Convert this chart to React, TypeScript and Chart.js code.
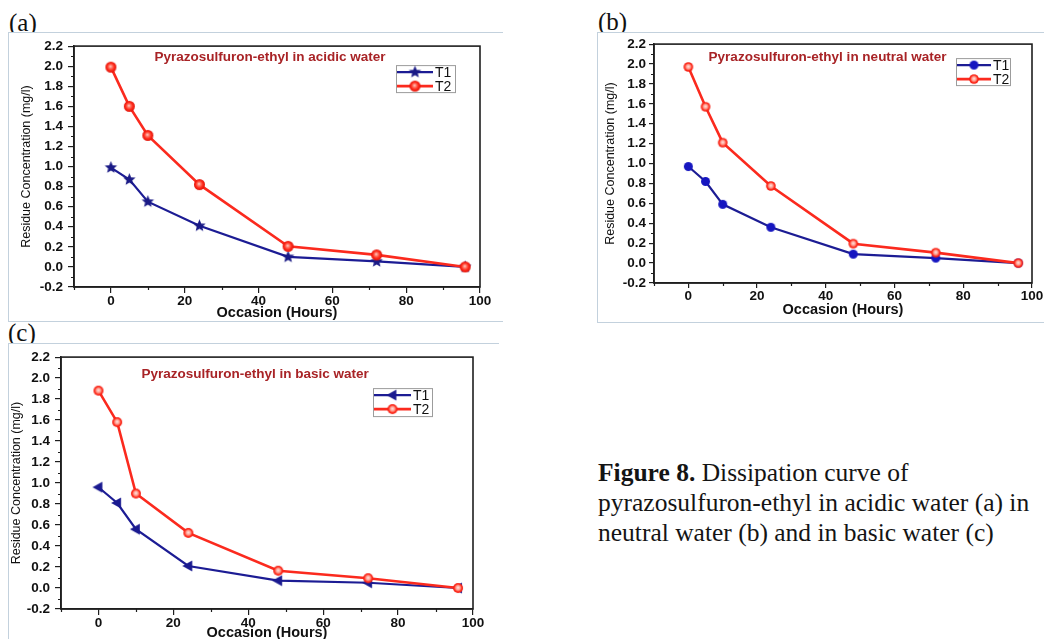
import React, { useEffect, useRef } from 'react';
import { Chart, registerables } from 'chart.js';

Chart.register(...registerables);

// ---------- data ----------
const hours = [0, 5, 10, 24, 48, 72, 96];
const acidicT1 = [0.99, 0.87, 0.65, 0.41, 0.1, 0.055, 0.0];
const acidicT2 = [1.99, 1.6, 1.31, 0.82, 0.205, 0.12, 0.0];
const neutralT1 = [0.97, 0.82, 0.59, 0.36, 0.09, 0.05, 0.0];
const neutralT2 = [1.97, 1.57, 1.21, 0.775, 0.195, 0.105, 0.0];
const basicT1 = [0.96, 0.81, 0.56, 0.21, 0.07, 0.05, 0.0];
const basicT2 = [1.88, 1.58, 0.9, 0.525, 0.165, 0.093, 0.0];

const xTickValues = [0, 20, 40, 60, 80, 100];
const xMinorValues = [-10, 10, 30, 50, 70, 90];
const yTickValues = [-0.2, 0, 0.2, 0.4, 0.6, 0.8, 1.0, 1.2, 1.4, 1.6, 1.8, 2.0, 2.2];
const yMinorValues = [-0.1, 0.1, 0.3, 0.5, 0.7, 0.9, 1.1, 1.3, 1.5, 1.7, 1.9, 2.1];
const seriesLabels = ['T1', 'T2'];
const xAxisTitle = 'Occasion (Hours)';
const yAxisTitle = 'Residue Concentration (mg/l)';
const panelTitles = [
  'Pyrazosulfuron-ethyl in acidic water',
  'Pyrazosulfuron-ethyl in neutral water',
  'Pyrazosulfuron-ethyl in basic water',
];
const panelLetters = ['(a)', '(b)', '(c)'];
const captionBold = 'Figure 8.';
const captionLines = [
  ' Dissipation curve of',
  'pyrazosulfuron-ethyl in acidic water (a) in',
  'neutral water (b) and in basic water (c)',
];

// ---------- styles ----------
const SANS = "'Liberation Sans', Arial, sans-serif";
const SERIF = "'Liberation Serif', 'Times New Roman', serif";
const BLUE = '#1c1c94';
const RED = '#fb2a1e';
const AXIS = '#1e1e1e';
const FRAME = '#c3d1dd';

type MarkerKind = 'star' | 'ball' | 'ring' | 'circle' | 'triLeft';
interface MarkerDef { kind: MarkerKind; r: number; color: string; }

function makeMarker(m: MarkerDef): HTMLCanvasElement {
  const s = Math.ceil(m.r * 2 + 4);
  const c = document.createElement('canvas');
  c.width = s;
  c.height = s;
  const ctx = c.getContext('2d')!;
  const cx = s / 2;
  const cy = s / 2;
  const r = m.r;
  ctx.beginPath();
  if (m.kind === 'star') {
    for (let i = 0; i < 10; i++) {
      const rad = i % 2 === 0 ? r : r * 0.45;
      const a = -Math.PI / 2 + (i * Math.PI) / 5;
      ctx.lineTo(cx + rad * Math.cos(a), cy + rad * Math.sin(a));
    }
    ctx.closePath();
    ctx.fillStyle = m.color;
    ctx.fill();
  } else if (m.kind === 'triLeft') {
    ctx.moveTo(cx - r, cy);
    ctx.lineTo(cx + r * 0.65, cy - r * 0.9);
    ctx.lineTo(cx + r * 0.65, cy + r * 0.9);
    ctx.closePath();
    ctx.fillStyle = m.color;
    ctx.fill();
  } else if (m.kind === 'circle') {
    ctx.arc(cx, cy, r, 0, Math.PI * 2);
    ctx.fillStyle = m.color;
    ctx.fill();
  } else if (m.kind === 'ball') {
    const g = ctx.createRadialGradient(cx - r * 0.1, cy - r * 0.15, 0, cx, cy, r);
    g.addColorStop(0, '#ffd6cf');
    g.addColorStop(0.3, '#ff7a6a');
    g.addColorStop(0.65, '#ff2a1a');
    g.addColorStop(1, '#e0140a');
    ctx.arc(cx, cy, r, 0, Math.PI * 2);
    ctx.fillStyle = g;
    ctx.fill();
  } else {
    const g = ctx.createRadialGradient(cx, cy - r * 0.1, 0, cx, cy, r);
    g.addColorStop(0, '#ffe8e4');
    g.addColorStop(0.45, '#ff9a8c');
    g.addColorStop(0.75, '#ff3020');
    g.addColorStop(1, '#f01a10');
    ctx.arc(cx, cy, r, 0, Math.PI * 2);
    ctx.fillStyle = g;
    ctx.fill();
  }
  return c;
}

interface PanelDef {
  left: number; top: number; w: number; h: number;
  yW: number; xH: number;
  pad: { top: number; right: number; bottom: number; left: number };
  yTitlePad: number; xTitlePad: number; yTickPad: number; tickLen: number;
  t1: number[]; t2: number[];
  m1: MarkerDef; m2: MarkerDef;
  title: string; titleFx: number; titleDy: number;
  legend: { dx: number; dy: number; w: number; h: number; sample: number };
}

const panels: PanelDef[] = [
  {
    left: 9, top: 33, w: 491, h: 288, yW: 65, xH: 34,
    pad: { top: 9, right: 20, bottom: 0, left: 0 },
    yTitlePad: 10, xTitlePad: -1, yTickPad: 5, tickLen: 6,
    t1: acidicT1, t2: acidicT2,
    m1: { kind: 'star', r: 6.5, color: '#1a1a86' },
    m2: { kind: 'ball', r: 5.5, color: RED },
    title: panelTitles[0], titleFx: 0.483, titleDy: 11,
    legend: { dx: 322, dy: 19, w: 59, h: 27, sample: 36 },
  },
  {
    left: 598, top: 33, w: 446, h: 289, yW: 56, xH: 39,
    pad: { top: 7, right: 12, bottom: 0, left: 0 },
    yTitlePad: 5, xTitlePad: 3, yTickPad: 3, tickLen: 5,
    t1: neutralT1, t2: neutralT2,
    m1: { kind: 'circle', r: 4.5, color: '#1616c0' },
    m2: { kind: 'ring', r: 4.8, color: RED },
    title: panelTitles[1], titleFx: 0.459, titleDy: 13,
    legend: { dx: 302, dy: 14, w: 54, h: 27, sample: 34 },
  },
  {
    left: 9, top: 344, w: 489, h: 295, yW: 52, xH: 30,
    pad: { top: 8, right: 25, bottom: 0, left: 0 },
    yTitlePad: 0, xTitlePad: -2.4, yTickPad: 5, tickLen: 6,
    t1: basicT1, t2: basicT2,
    m1: { kind: 'triLeft', r: 6, color: '#1a1a90' },
    m2: { kind: 'ring', r: 5, color: RED },
    title: panelTitles[2], titleFx: 0.471, titleDy: 17,
    legend: { dx: 312, dy: 31, w: 59, h: 28, sample: 37 },
  },
];

function buildChart(canvas: HTMLCanvasElement, p: PanelDef) {
  const img1 = makeMarker(p.m1);
  const img2 = makeMarker(p.m2);

  const decor = {
    id: 'decor',
    afterDraw(chart: any) {
      const { ctx, chartArea: a, scales } = chart;
      ctx.save();
      // minor ticks
      ctx.strokeStyle = AXIS;
      ctx.lineWidth = 1.2;
      ctx.beginPath();
      xMinorValues.forEach((v) => {
        const px = Math.round(scales.x.getPixelForValue(v)) + 0.5;
        ctx.moveTo(px, a.bottom);
        ctx.lineTo(px, a.bottom + 3);
      });
      yMinorValues.forEach((v) => {
        const py = Math.round(scales.y.getPixelForValue(v)) + 0.5;
        ctx.moveTo(a.left - 3, py);
        ctx.lineTo(a.left, py);
      });
      ctx.stroke();
      // frame
      ctx.lineWidth = 1.6;
      ctx.strokeRect(a.left, a.top, a.right - a.left, a.bottom - a.top);
      // title inside plot
      ctx.font = `bold 13.5px ${SANS}`;
      ctx.fillStyle = '#a82326';
      ctx.textAlign = 'center';
      ctx.textBaseline = 'middle';
      ctx.fillText(p.title, a.left + p.titleFx * (a.right - a.left), a.top + p.titleDy);
      // legend
      const L = p.legend;
      const bx = a.left + L.dx;
      const by = a.top + L.dy;
      ctx.fillStyle = '#ffffff';
      ctx.fillRect(bx, by, L.w, L.h);
      ctx.strokeStyle = '#9c9c9c';
      ctx.lineWidth = 1;
      ctx.strokeRect(bx + 0.5, by + 0.5, L.w, L.h);
      const rows = [
        { label: seriesLabels[0], color: BLUE, img: img1, lw: 2.2 },
        { label: seriesLabels[1], color: RED, img: img2, lw: 2.6 },
      ];
      rows.forEach((row, i) => {
        const ry = by + 7 + i * 14;
        ctx.strokeStyle = row.color;
        ctx.lineWidth = row.lw;
        ctx.beginPath();
        ctx.moveTo(bx + 1, ry);
        ctx.lineTo(bx + 1 + L.sample, ry);
        ctx.stroke();
        ctx.drawImage(row.img, bx + 1 + L.sample / 2 - row.img.width / 2, ry - row.img.height / 2);
        ctx.fillStyle = '#111';
        ctx.font = `14px ${SANS}`;
        ctx.textAlign = 'left';
        ctx.textBaseline = 'middle';
        ctx.fillText(row.label, bx + L.sample + 3, ry + 1);
      });
      ctx.restore();
    },
  };

  const tickFont = { family: SANS, size: 13.5, weight: 'bold' as const };

  return new Chart(canvas, {
    type: 'line',
    data: {
      datasets: [
        {
          label: seriesLabels[0],
          data: hours.map((h, i) => ({ x: h, y: p.t1[i] })),
          borderColor: BLUE,
          borderWidth: 2.2,
          pointStyle: img1 as any,
          pointRadius: p.m1.r,
          order: 2,
          tension: 0,
        },
        {
          label: seriesLabels[1],
          data: hours.map((h, i) => ({ x: h, y: p.t2[i] })),
          borderColor: RED,
          borderWidth: 2.6,
          pointStyle: img2 as any,
          pointRadius: p.m2.r,
          order: 1,
          tension: 0,
        },
      ],
    },
    options: {
      animation: false,
      responsive: false,
      maintainAspectRatio: false,
      layout: { padding: p.pad },
      plugins: {
        legend: { display: false },
        tooltip: { enabled: false },
        title: { display: false },
      },
      scales: {
        x: {
          type: 'linear',
          min: -10,
          max: 100,
          afterBuildTicks: (s: any) => {
            s.ticks = xTickValues.map((v) => ({ value: v }));
          },
          afterFit: (s: any) => {
            s.height = p.xH;
          },
          grid: {
            display: true,
            drawOnChartArea: false,
            drawTicks: true,
            tickLength: p.tickLen,
            color: AXIS,
            lineWidth: 1.2,
          },
          border: { display: true, color: AXIS, width: 1.6 },
          ticks: {
            font: tickFont,
            color: '#111',
            padding: 0,
            maxRotation: 0,
            autoSkip: false,
            callback: (v: any) => String(v),
          },
          title: {
            display: true,
            text: xAxisTitle,
            color: '#111',
            font: { family: SANS, size: 14.5, weight: 'bold' },
            padding: { top: 0, bottom: p.xTitlePad },
          },
        },
        y: {
          type: 'linear',
          min: -0.2,
          max: 2.2,
          afterBuildTicks: (s: any) => {
            s.ticks = yTickValues.map((v) => ({ value: v }));
          },
          afterFit: (s: any) => {
            s.width = p.yW;
          },
          grid: {
            display: true,
            drawOnChartArea: false,
            drawTicks: true,
            tickLength: p.tickLen,
            color: AXIS,
            lineWidth: 1.2,
          },
          border: { display: true, color: AXIS, width: 1.6 },
          ticks: {
            font: tickFont,
            color: '#111',
            padding: p.yTickPad,
            autoSkip: false,
            callback: (v: any) => Number(v).toFixed(1),
          },
          title: {
            display: true,
            text: yAxisTitle,
            color: '#111',
            font: { family: SANS, size: 12.5, weight: 'normal' },
            padding: { top: p.yTitlePad, bottom: 0 },
          },
        },
      },
    },
    plugins: [decor],
  } as any);
}

function ChartCanvas({ p }: { p: PanelDef }) {
  const ref = useRef<HTMLCanvasElement | null>(null);
  useEffect(() => {
    if (!ref.current) return;
    const chart = buildChart(ref.current, p);
    return () => chart.destroy();
  }, []);
  return (
    <canvas
      ref={ref}
      width={p.w}
      height={p.h}
      style={{ position: 'absolute', left: p.left, top: p.top, width: p.w, height: p.h, zIndex: 2 }}
    />
  );
}

const letterStyle = (left: number, top: number): React.CSSProperties => ({
  position: 'absolute',
  left,
  top,
  fontFamily: SERIF,
  fontSize: 25,
  lineHeight: '25px',
  color: '#111',
  zIndex: 0,
  whiteSpace: 'nowrap',
});

export default function App() {
  return (
    <div
      style={{
        position: 'fixed',
        left: 0,
        top: 0,
        width: 1044,
        height: 639,
        overflow: 'hidden',
        background: '#ffffff',
      }}
    >
      <div style={letterStyle(9, 9.5)}>{panelLetters[0]}</div>
      <div style={letterStyle(598, 9)}>{panelLetters[1]}</div>
      <div style={letterStyle(8, 320)}>{panelLetters[2]}</div>

      <div
        style={{
          position: 'absolute', left: 8, top: 32, width: 495, height: 290, boxSizing: 'border-box',
          borderTop: `1px solid ${FRAME}`, borderLeft: `1px solid ${FRAME}`, borderBottom: `1px solid ${FRAME}`,
          background: '#fff', zIndex: 1,
        }}
      />
      <div
        style={{
          position: 'absolute', left: 597, top: 32, width: 460, height: 291, boxSizing: 'border-box',
          borderTop: `1px solid ${FRAME}`, borderLeft: `1px solid ${FRAME}`, borderBottom: `1px solid ${FRAME}`,
          background: '#fff', zIndex: 1,
        }}
      />
      <div
        style={{
          position: 'absolute', left: 8, top: 343, width: 491, height: 310, boxSizing: 'border-box',
          borderTop: `1px solid ${FRAME}`, borderLeft: `1px solid ${FRAME}`,
          background: '#fff', zIndex: 1,
        }}
      />

      {panels.map((p, i) => (
        <ChartCanvas key={i} p={p} />
      ))}

      <div
        style={{
          position: 'absolute',
          left: 598,
          top: 458,
          fontFamily: SERIF,
          fontSize: 25.5,
          lineHeight: '30px',
          color: '#141414',
          whiteSpace: 'nowrap',
          zIndex: 3,
        }}
      >
        <span style={{ fontWeight: 'bold' }}>{captionBold}</span>
        {captionLines[0]}
        <br />
        {captionLines[1]}
        <br />
        {captionLines[2]}
      </div>
    </div>
  );
}
